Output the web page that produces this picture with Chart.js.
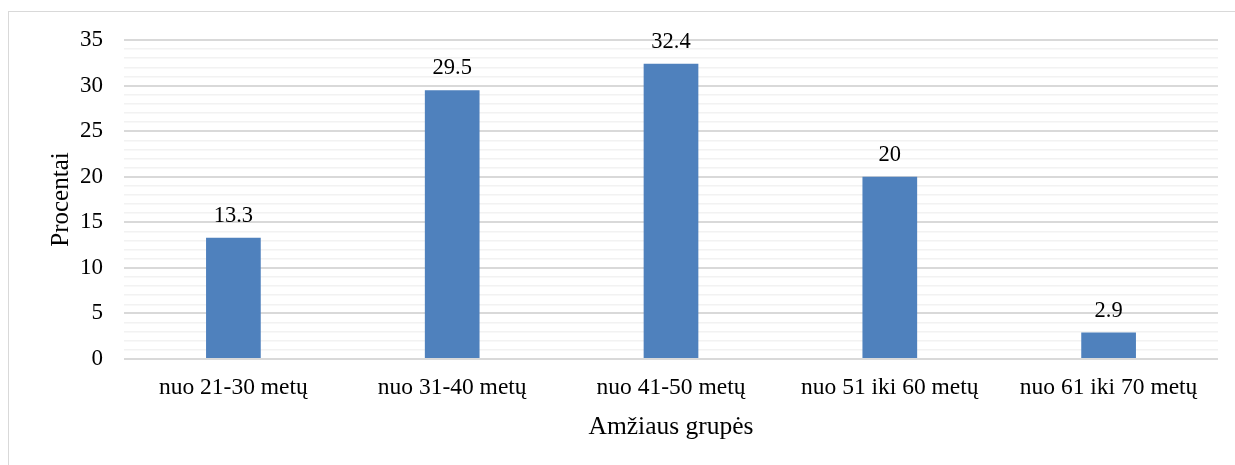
<!DOCTYPE html>
<html>
<head>
<meta charset="utf-8">
<script src="https://cdn.jsdelivr.net/npm/chart.js@4"></script>
<style>
  html, body { margin: 0; padding: 0; background: #fff; overflow: hidden; }
  #frame { position: absolute; left: 8px; top: 11px; width: 1260px; height: 500px; border: 1px solid #d9d9d9; }
  #wrap { position: absolute; left: 0; top: 0; width: 1235px; height: 465px; }
</style>
</head>
<body>
<div id="frame"></div>
<div id="wrap"><canvas id="chart"></canvas></div>
<script>
const categories = ["nuo 21-30 metų", "nuo 31-40 metų", "nuo 41-50 metų", "nuo 51 iki 60 metų", "nuo 61 iki 70 metų"];
const values = [13.3, 29.5, 32.4, 20, 2.9];
const valueLabels = ["13.3", "29.5", "32.4", "20", "2.9"];
const yMax = 35;

const serif = "'Liberation Serif', 'Times New Roman', serif";

const barLabels = {
  id: "barLabels",
  afterDatasetsDraw(chart) {
    const ctx = chart.ctx;
    const meta = chart.getDatasetMeta(0);
    ctx.save();
    ctx.font = "22.5px " + serif;
    ctx.fillStyle = "#000";
    ctx.textAlign = "center";
    ctx.textBaseline = "alphabetic";
    meta.data.forEach((bar, i) => {
      ctx.fillText(valueLabels[i], bar.x, bar.y - 16);
    });
    ctx.restore();
  },
};

new Chart(document.getElementById("chart"), {
  type: "bar",
  data: {
    labels: categories,
    datasets: [
      {
        data: values,
        backgroundColor: "#4f81bd",
        barPercentage: 0.5,
        categoryPercentage: 0.5,
      },
    ],
  },
  options: {
    responsive: true,
    maintainAspectRatio: false,
    animation: false,
    layout: { padding: { left: 40, right: 17, top: 40, bottom: 20 } },
    plugins: { legend: { display: false }, tooltip: { enabled: false } },
    scales: {
      x: {
        grid: { display: false },
        border: { display: false },
        ticks: { color: "#000", font: { family: serif, size: 23.5 }, padding: 7, maxRotation: 0 },
        title: { display: true, text: "Amžiaus grupės", color: "#000", font: { family: serif, size: 25.5 }, padding: { top: 0, bottom: 2 } },
        afterFit(scale) { scale.height = 86; },
      },
      y: {
        min: 0,
        max: yMax,
        border: { display: false },
        grid: {
          drawTicks: false,
          color: (c) => (c.tick && c.tick.value % 5 === 0 ? "#d9d9d9" : "#f2f2f2"),
          lineWidth: (c) => (c.tick && c.tick.value % 5 === 0 ? 2 : 1.5),
        },
        ticks: {
          stepSize: 1,
          autoSkip: false,
          color: "#000",
          font: { family: serif, size: 23 },
          padding: 21,
          callback: (v) => (v % 5 === 0 ? String(v) : ""),
        },
        title: { display: true, text: "Procentai", color: "#000", font: { family: serif, size: 25 }, padding: { top: 6, bottom: 0 } },
        afterFit(scale) { scale.width = 84; },
      },
    },
  },
  plugins: [barLabels],
});
</script>
</body>
</html>
